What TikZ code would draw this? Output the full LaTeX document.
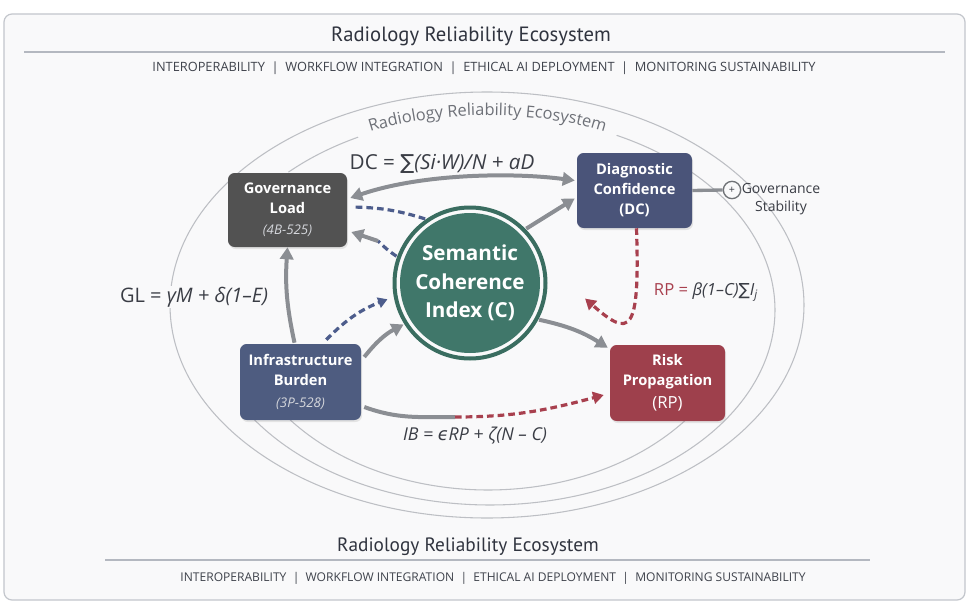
\documentclass[tikz,border=0pt]{standalone}
\usepackage{fontspec}
\setmainfont{Open Sans}
\newfontfamily\ptsans{PT Sans}
\newfontfamily\djv{DejaVu Sans}
\usetikzlibrary{arrows.meta,calc,decorations.text,shadows}
\definecolor{bgc}{HTML}{F9F9FA}
\definecolor{framec}{HTML}{C3C6CC}
\definecolor{rulec}{HTML}{B4B8C0}
\definecolor{titlec}{HTML}{30343F}
\definecolor{subc}{HTML}{3F434C}
\definecolor{ellc}{HTML}{BDBFC4}
\definecolor{govc}{HTML}{525252}
\definecolor{dcc}{HTML}{4A5479}
\definecolor{infc}{HTML}{4E5C80}
\definecolor{rpc}{HTML}{9E404C}
\definecolor{scg}{HTML}{40776A}
\definecolor{ringc}{HTML}{3A6D60}
\definecolor{arrg}{HTML}{8B8E93}
\definecolor{blued}{HTML}{4D5D8C}
\definecolor{redd}{HTML}{A8404E}
\definecolor{formc}{HTML}{3A3D45}
\definecolor{paren}{HTML}{D5D7DC}
\definecolor{arctext}{HTML}{6E7178}
\begin{document}
\begin{tikzpicture}[x=0.75pt,y=-0.75pt,
  >={Triangle[length=9pt,width=10pt]},
  box/.style={rounded corners=5pt, text=white, align=center, inner sep=0pt,
    font=\fontsize{11}{15}\selectfont\bfseries,
    drop shadow={opacity=0.18, shadow xshift=0.8pt, shadow yshift=-1.5pt}},
  garrow/.style={draw=arrg, line width=3pt, ->},
  bdash/.style={draw=blued, line width=2.4pt, dash pattern=on 5pt off 3pt},
  rdash/.style={draw=redd, line width=2.4pt, dash pattern=on 5pt off 3pt},
  formula/.style={text=formc, inner sep=1pt},
  ell/.style={draw=ellc, line width=0.8pt}
]
\useasboundingbox (0,0) rectangle (975,603);
\fill[white] (0,0) rectangle (975,603);
\draw[framec, line width=0.9pt, fill=bgc, rounded corners=6pt] (4,14) rectangle (965,600);

% header
\node[font=\ptsans\fontsize{15.5}{17}\selectfont, text=titlec] (t1) at (471,36) {Radiology Reliability Ecosystem};
\draw[rulec, line width=1.1pt] (24,52) -- (945,52);
\node[font=\fontsize{9.6}{11}\selectfont, text=subc] (s1) at (484,68) {INTEROPERABILITY \ | \ WORKFLOW INTEGRATION \ | \ ETHICAL AI DEPLOYMENT \ | \ MONITORING SUSTAINABILITY};

% footer
\node[font=\ptsans\fontsize{14.5}{16}\selectfont, text=titlec] (t2) at (468,547) {Radiology Reliability Ecosystem};
\draw[rulec, line width=1.1pt] (105,560) -- (870,560);
\node[font=\fontsize{9.05}{10}\selectfont, text=subc] (s2) at (493,578) {INTEROPERABILITY \ | \ WORKFLOW INTEGRATION \ | \ ETHICAL AI DEPLOYMENT \ | \ MONITORING SUSTAINABILITY};

% ellipses
\draw[ell] (487,305) ellipse [x radius=317, y radius=213];
\draw[ell] plot[domain=-150:135, samples=140, smooth] ({490+285*cos(\x)},{310-195*sin(\x)});
\draw[ell] plot[domain=-150:-30, samples=80, smooth] ({488+255*cos(\x)},{300-190*sin(\x)});
\draw[bgc, line width=13pt] (356,132) .. controls (420,103) and (555,103) .. (618,132);
\path[decorate, decoration={text along path, text align=center,
  text={|\fontsize{12.3}{13}\selectfont\color{arctext}|Radiology Reliability Ecosystem}}]
  (330,150) .. controls (405,104) and (570,104) .. (645,150);

% central circle
\fill[scg] (470,283) circle (70);
\draw[ringc, line width=3pt] (470,283) circle (75.5);
\node[circle, minimum size=117pt, inner sep=0pt, text=white, align=center,
  font=\fontsize{15.5}{21.5}\selectfont\bfseries] (sci) at (470,283) {Semantic\\Coherence\\Index (C)};

% boxes
\node[box, fill=govc, minimum width=89.25pt, minimum height=55.5pt] (gov) at (287.5,210)
  {Governance\\Load\\[1pt]{\mdseries\itshape\fontsize{10}{11}\selectfont\color{paren}(4B-525)}};
\node[box, fill=dcc, minimum width=86.25pt, minimum height=56.25pt] (dc) at (634.5,190.5)
  {Diagnostic\\Confidence\\(DC)};
\node[box, fill=infc, minimum width=90.75pt, minimum height=57pt] (inf) at (300.5,382)
  {Infrastructure\\Burden\\[2pt]{\mdseries\itshape\fontsize{10}{11}\selectfont\color{paren}(3P-528)}};
\node[box, fill=rpc, minimum width=86.25pt, minimum height=57pt] (rp) at (667.5,383)
  {Risk\\Propagation\\[2pt]{\mdseries\fontsize{12.5}{13}\selectfont (RP)}};

% governance stability
\node[circle, draw=arrg!80!black, line width=1pt, fill=bgc, minimum size=13pt, inner sep=0pt,
  font=\fontsize{8}{8}\selectfont, text=formc] (gsc) at (732,190) {+};
\node[align=center, font=\fontsize{10.5}{14}\selectfont, text=formc] (gs) at (781,199) {Governance\\Stability};
\draw[arrg, line width=2.5pt] (dc.east) -- (gsc.west);

% formulas
\node[formula, font=\fontsize{15.5}{17}\selectfont] (fdc) at (442,164) {DC = {\djv ∑}\textit{(Si·W)/N + aD}};
\node[formula, fill=bgc, font=\fontsize{15}{17}\selectfont] (fgl) at (194,297) {GL = \textit{γM + δ(1–E)}};
\node[formula, font=\fontsize{12.5}{15}\selectfont] (frp) at (706,292) {{\color{redd}RP =} \textit{β(1–C)}{\djv ∑}\textit{I\textsubscript{j}}};
\node[formula, font=\fontsize{13.3}{15}\selectfont] (fib) at (475,436) {\textit{IB = {\djv ϵ}RP + ζ(N – C)}};

% connectors
\draw[garrow, <->] ($(gov.east)+(3,-12)$) .. controls (420,174) and (510,172) .. ($(dc.west)+(-2,-10)$);
\draw[garrow] (sci.44) -- ($(dc.west)+(-2,8)$);
\draw[bdash] (sci.125) to[bend right=8] ($(gov.east)+(5,-3)$);
\coordinate (m1) at (378,241);
\draw[bdash] (sci.160) to[bend left=5] (m1);
\draw[garrow] (m1) -- ($(gov.east)+(4,22)$);
\draw[garrow] ($(inf.north)+(-6,-1)$) to[bend left=8] (gov.south);
\draw[bdash, -{Triangle[length=7pt,width=8pt]}] ($(inf.north east)+(-35,-4)$) to[bend left=12] ($(sci.192)+(-6,0)$);
\draw[garrow] ($(inf.east)+(3,-25)$) to[bend left=12] (sci.212);
\draw[garrow] (sci.332) to[bend left=10] ($(rp.north west)+(-2,3)$);
\draw[rdash, -{Triangle[length=8pt,width=9pt]}] ($(dc.south)+(2,0)$) .. controls (640,335) and (630,338) .. ($(sci.350)+(38,2)$);
\coordinate (m2) at (455,417);
\draw[arrg, line width=3pt] ($(inf.east)+(3,25)$) to[out=-20, in=180] (m2);
\draw[rdash, -{Triangle[length=8pt,width=9pt]}] (m2) to[out=0, in=195] ($(rp.west)+(-6,12)$);
\end{tikzpicture}
\end{document}
